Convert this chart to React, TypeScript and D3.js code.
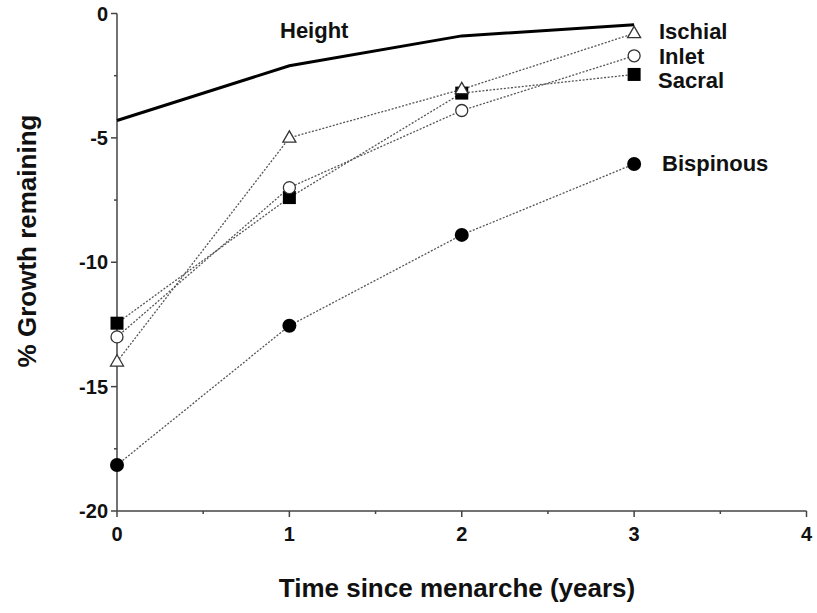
import React from "react";
import * as d3 from "d3";

const years = [0, 1, 2, 3];
const height = [-4.3, -2.1, -0.9, -0.45];
const ischial = [-14.0, -5.0, -3.05, -0.8];
const inlet = [-13.0, -7.0, -3.9, -1.7];
const sacral = [-12.45, -7.4, -3.2, -2.45];
const bispinous = [-18.15, -12.55, -8.9, -6.05];

const xTicks = [0, 1, 2, 3, 4];
const yTicks = [0, -5, -10, -15, -20];
const xMinor = [0.5, 1.5, 2.5, 3.5];
const yMinor = [-2.5, -7.5, -12.5, -17.5];

const W = 817;
const H = 613;
const FONT = "'Liberation Sans', Arial, Helvetica, sans-serif";

export default function App() {
  const x = d3.scaleLinear().domain([0, 4]).range([117, 806.5]);
  const y = d3.scaleLinear().domain([-20, 0]).range([511, 13.5]);
  const line = d3
    .line<number>()
    .x((_, i) => x(years[i]))
    .y((d) => y(d));

  const dotted = {
    fill: "none",
    stroke: "#555",
    strokeWidth: 1.3,
    strokeDasharray: "2,1.6",
  };

  const tri = (cx: number, cy: number, s = 13) => {
    const h = (s * Math.sqrt(3)) / 2;
    return `M${cx},${cy - h * 0.62}L${cx + s / 2},${cy + h * 0.38}L${cx - s / 2},${cy + h * 0.38}Z`;
  };

  return (
    <div style={{ position: "absolute", left: 0, top: 0 }}>
      <svg width={W} height={H} style={{ display: "block", background: "#fff" }}>
        {/* axes */}
        <g stroke="#444" strokeWidth={1.5}>
          <line x1={x(0)} x2={x(0)} y1={y(0)} y2={y(-20)} />
          <line x1={x(0)} x2={x(4)} y1={y(-20)} y2={y(-20)} />
          {yTicks.map((t) => (
            <line key={"yt" + t} x1={x(0) - 6} x2={x(0)} y1={y(t)} y2={y(t)} />
          ))}
          {yMinor.map((t) => (
            <line key={"ym" + t} x1={x(0) - 3} x2={x(0)} y1={y(t)} y2={y(t)} />
          ))}
          {xTicks.map((t) => (
            <line key={"xt" + t} x1={x(t)} x2={x(t)} y1={y(-20)} y2={y(-20) + 6} />
          ))}
          {xMinor.map((t) => (
            <line key={"xm" + t} x1={x(t)} x2={x(t)} y1={y(-20)} y2={y(-20) + 3} />
          ))}
        </g>
        <g fontFamily={FONT} fontWeight="bold" fontSize={20} fill="#111">
          {yTicks.map((t) => (
            <text key={"yl" + t} x={x(0) - 9} y={y(t)} dy="0.36em" textAnchor="end">
              {t}
            </text>
          ))}
          {xTicks.map((t) => (
            <text key={"xl" + t} x={x(t)} y={y(-20) + 30} textAnchor="middle">
              {t}
            </text>
          ))}
          <text x={457} y={597} textAnchor="middle" fontSize={26}>
            Time since menarche (years)
          </text>
          <text
            transform={`translate(36,${241}) rotate(-90)`}
            textAnchor="middle"
            fontSize={26}
          >
            % Growth remaining
          </text>
        </g>

        {/* Height */}
        <path d={line(height) || ""} fill="none" stroke="#000" strokeWidth={3} />

        {/* series lines */}
        <path d={line(bispinous) || ""} {...dotted} />
        <path d={line(sacral) || ""} {...dotted} />
        <path d={line(inlet) || ""} {...dotted} />
        <path d={line(ischial) || ""} {...dotted} />

        {/* markers */}
        {bispinous.map((v, i) => (
          <circle key={"b" + i} cx={x(years[i])} cy={y(v)} r={7} fill="#000" />
        ))}
        {sacral.map((v, i) => (
          <rect key={"s" + i} x={x(years[i]) - 6.5} y={y(v) - 6.5} width={13} height={13} fill="#000" />
        ))}
        {inlet.map((v, i) => (
          <circle key={"i" + i} cx={x(years[i])} cy={y(v)} r={6} fill="#fff" stroke="#333" strokeWidth={1.3} />
        ))}
        {ischial.map((v, i) => (
          <path key={"t" + i} d={tri(x(years[i]), y(v))} fill="#fff" stroke="#333" strokeWidth={1.3} />
        ))}

        {/* labels */}
        <g fontFamily={FONT} fontWeight="bold" fontSize={22} fill="#111">
          <text x={280} y={38}>Height</text>
          <text x={659} y={39}>Ischial</text>
          <text x={659} y={64}>Inlet</text>
          <text x={658} y={88}>Sacral</text>
          <text x={662} y={171}>Bispinous</text>
        </g>
      </svg>
    </div>
  );
}
